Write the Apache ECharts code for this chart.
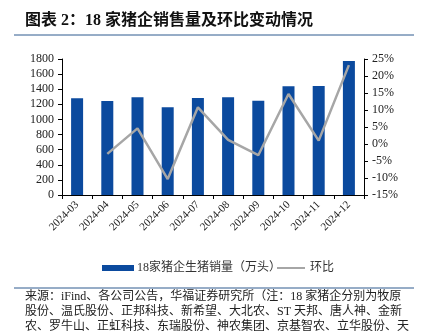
<!DOCTYPE html>
<html>
<head>
<meta charset="utf-8">
<script src="https://cdn.jsdelivr.net/npm/echarts@6/dist/echarts.min.js"></script>
<style>
  html, body { margin: 0; padding: 0; background: #fff; }
  #chart { width: 421px; height: 331px; }
</style>
</head>
<body>
<div id="chart"></div>
<script>
// Monthly hog sales of 18 listed producers and month-over-month change
const months = ['2024-03', '2024-04', '2024-05', '2024-06', '2024-07', '2024-08', '2024-09', '2024-10', '2024-11', '2024-12'];
const salesVolume = [1280, 1244, 1293, 1161, 1284, 1293, 1248, 1439, 1443, 1774];
const momChange = [null, -2.9, 4.6, -10.3, 10.8, 1.2, -3.3, 14.7, 1.0, 23.2];
const leftTicks = { min: 0, max: 1800, interval: 200 };
const rightTicks = { min: -15, max: 25, interval: 5 };
const titleText = '图表 2：18 家猪企销售量及环比变动情况';
const barName = '18家猪企生猪销量（万头）';
const lineName = '环比';
const sourceLines = [
  '来源：iFind、各公司公告，华福证券研究所（注：18 家猪企分别为牧原',
  '股份、温氏股份、正邦科技、新希望、大北农、ST 天邦、唐人神、金新',
  '农、罗牛山、正虹科技、东瑞股份、神农集团、京基智农、立华股份、天'
];

const serif = '"Liberation Serif", "Noto Sans CJK SC", serif';
const chart = echarts.init(document.getElementById('chart'), null, { renderer: 'canvas' });

const axisCommon = {
  axisLine: { show: true, lineStyle: { color: '#000', width: 1 } },
  axisTick: { show: true, length: 4, lineStyle: { color: '#000' } },
  splitLine: { show: false }
};

chart.setOption({
  animation: false,
  backgroundColor: '#fff',
  grid: { left: 62, right: 57, top: 59, bottom: 136 },
  legend: [
    {
      left: 97, top: 257,
      itemWidth: 32, itemHeight: 6, itemGap: 0,
      textStyle: { fontFamily: serif, fontSize: 12, color: '#333', padding: [0, 0, 0, -2] },
      data: [{ name: barName, icon: 'rect' }]
    },
    {
      left: 272, top: 257,
      itemWidth: 28, itemHeight: 2, itemGap: 0,
      textStyle: { fontFamily: serif, fontSize: 12, color: '#333' },
      data: [{ name: lineName, icon: 'rect' }]
    }
  ],
  xAxis: {
    type: 'category',
    data: months,
    axisLine: { lineStyle: { color: '#000' } },
    axisTick: { show: true, alignWithLabel: false, length: 4, lineStyle: { color: '#000' } },
    axisLabel: { rotate: 45, color: '#222', fontFamily: serif, fontSize: 11, margin: 8, interval: 0 }
  },
  yAxis: [
    Object.assign({ type: 'value', position: 'left' }, leftTicks, axisCommon, {
      axisLabel: { color: '#222', fontFamily: serif, fontSize: 12, formatter: function (v) { return String(v); } }
    }),
    Object.assign({ type: 'value', position: 'right' }, rightTicks, axisCommon, {
      axisLabel: { color: '#222', fontFamily: serif, fontSize: 12, formatter: '{value}%' }
    })
  ],
  series: [
    {
      name: barName,
      type: 'bar',
      data: salesVolume,
      barWidth: 12,
      itemStyle: { color: '#0B4A9E' }
    },
    {
      name: lineName,
      type: 'line',
      yAxisIndex: 1,
      data: momChange,
      symbol: 'none',
      lineStyle: { color: '#A6A6A6', width: 2.5 },
      itemStyle: { color: '#A6A6A6' }
    }
  ],
  graphic: [
    {
      type: 'text', left: 25, top: 13,
      style: { text: titleText, font: 'bold 16px ' + serif, fill: '#111' }
    },
    {
      type: 'line', shape: { x1: 14, y1: 35, x2: 414, y2: 35 },
      style: { stroke: '#2E5B8F', lineWidth: 1 }
    },
    {
      type: 'line', shape: { x1: 14, y1: 288, x2: 414, y2: 288 },
      style: { stroke: '#2E5B8F', lineWidth: 1 }
    }
  ].concat(sourceLines.map(function (t, i) {
    return {
      type: 'text', left: 25, top: 291 + i * 15,
      style: { text: t, font: '12px ' + serif, fill: '#222' }
    };
  }))
});
</script>
</body>
</html>
